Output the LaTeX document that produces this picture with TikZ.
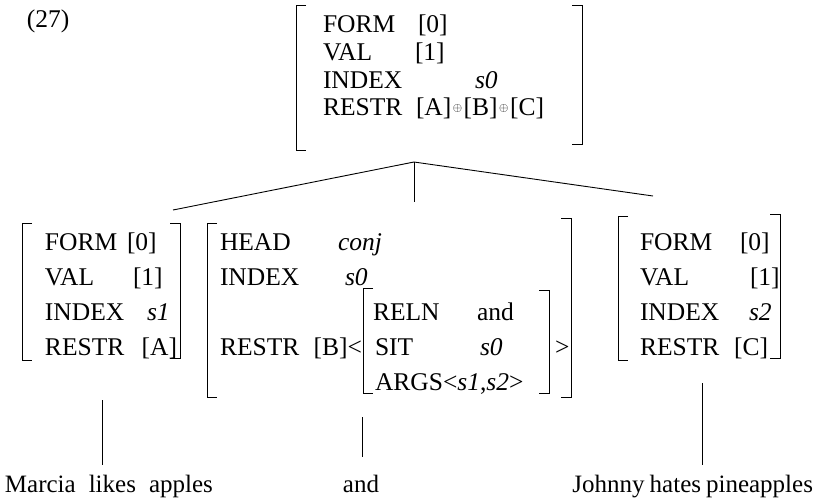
\documentclass[tikz,border=0pt]{standalone}
\usepackage{fontspec}
\setmainfont{Liberation Serif}
\newcommand\oplsm{\kern1.5pt\raisebox{4pt}{$\scriptscriptstyle\oplus$}\kern1.5pt}
\newcommand\avmL[3]{\draw[brk] (#1+10,#2) -- (#1,#2) -- (#1,#3) -- (#1+10,#3);}
\newcommand\avmR[3]{\draw[brk] (#1-10,#2) -- (#1,#2) -- (#1,#3) -- (#1-10,#3);}
\newcommand\widesp{\spaceskip=13pt\relax}
\newcommand\narsp{\spaceskip=5pt\relax}
\begin{document}
\begin{tikzpicture}[x=1pt,y=-1pt,
  every node/.style={inner sep=0pt, outer sep=0pt, font=\fontsize{25.5}{30}\selectfont},
  w/.style={anchor=base west},
  e/.style={anchor=base east},
  sent/.style={font=\fontsize{25}{30}\selectfont},
  brk/.style={line width=0.9pt},
  edge/.style={line width=0.9pt}]
\useasboundingbox (0,0) rectangle (815,499);

\node[w] (ex) at (27,27) {(27)};

% top AVM
\node[w] (tf)  at (323,32)  {FORM};
\node[w] (tfv) at (418,32)  {[0]};
\node[w] (tv)  at (323,60)  {VAL};
\node[w] (tvv) at (415,60)  {[1]};
\node[w] (ti)  at (323,88)  {INDEX};
\node[w] (tiv) at (475,88)  {\textit{s0}};
\node[w] (tr)  at (323,115) {RESTR};
\node[w] (trv) at (416,115) {[A]\oplsm[B]\oplsm[C]};
\avmL{296}{5}{150}
\avmR{582}{5}{144}

% left AVM
\node[w] (lf)  at (45,250) {FORM};
\node[w] (lfv) at (127,250) {[0]};
\node[w] (lv)  at (45,285) {VAL};
\node[w] (lvv) at (133,285) {[1]};
\node[w] (li)  at (45,320) {INDEX};
\node[w] (liv) at (147,320) {\textit{s1}};
\node[w] (lr)  at (45,355) {RESTR};
\node[e] (lrv) at (177,355) {[A]};
\avmL{22}{223}{360}
\avmR{180}{223}{358}

% middle AVM
\node[w] (mh)  at (220,250) {HEAD};
\node[w] (mhv) at (338,250) {\textit{conj}};
\node[w] (mi)  at (220,285) {INDEX};
\node[w] (miv) at (345,285) {\textit{s0}};
\node[w] (mr)  at (220,355) {RESTR};
\node[e] (mrv) at (362,355) {[B]<};
\node[w] (ir)  at (373,320) {RELN};
\node[w] (irv) at (477,320) {and};
\node[w] (is)  at (375,355) {SIT};
\node[w] (isv) at (480,355) {\textit{s0}};
\node[w] (ia)  at (375,390) {ARGS<\textit{s1},\textit{s2}>};
\node[w] (mgt) at (555,355) {>};
\avmL{363}{288}{393}
\avmR{549}{290}{393}
\avmL{207}{223}{397}
\avmR{571}{218}{397}

% right AVM
\node[w] (rf)  at (640,250) {FORM};
\node[w] (rfv) at (740,250) {[0]};
\node[w] (rv)  at (640,285) {VAL};
\node[w] (rvv) at (750,285) {[1]};
\node[w] (ri)  at (640,320) {INDEX};
\node[w] (riv) at (749,320) {\textit{s2}};
\node[w] (rr)  at (640,355) {RESTR};
\node[e] (rrv) at (768,355) {[C]};
\avmL{618}{216}{360}
\avmR{780}{214}{358}

% tree branches
\coordinate (apex) at (414,162);
\coordinate (lc) at (173,210);
\coordinate (mc) at (414,202);
\coordinate (rc) at (653,196);
\draw[edge] (apex) -- (lc);
\draw[edge] (apex) -- (mc);
\draw[edge] (apex) -- (rc);

% sentences
\node[sent,anchor=base west] (s1) at (5,492) {\widesp Marcia likes apples};
\node[sent,anchor=base] (s2) at (361,492) {and};
\node[sent,anchor=base east] (s3) at (813,492) {\narsp Johnny hates pineapples};
\coordinate (l1) at (102,400);
\coordinate (l2) at (362,417);
\coordinate (l3) at (702,383);
\draw[edge,shorten >=10pt] (l1) -- (l1 |- s1.north);
\draw[edge,shorten >=18pt] (l2) -- (l2 |- s2.north);
\draw[edge,shorten >=10pt] (l3) -- (l3 |- s3.north);
\end{tikzpicture}
\end{document}
